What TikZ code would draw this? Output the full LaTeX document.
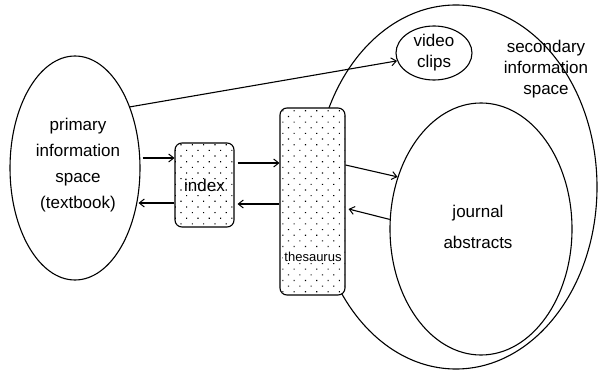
\documentclass[tikz,border=0pt]{standalone}
\usepackage{fontspec}
\setmainfont{Liberation Sans}
\usetikzlibrary{arrows.meta,patterns.meta,shapes.geometric}
\begin{document}
\begin{tikzpicture}[x=1pt,y=-1pt,line width=1.1pt,
  lbl/.style={font=\fontsize{17}{25}\selectfont,align=center,inner sep=0pt},
  arr/.style={-{Straight Barb[length=5pt,width=8pt,line width=1pt]}},
  oval/.style={draw,ellipse,inner sep=0pt},
  dotbox/.style={draw,rounded corners=7pt,inner sep=0pt,
    preaction={fill=white},
    pattern={Dots[distance=8pt,radius=0.8pt,angle=45]}}]
\useasboundingbox (0,0) rectangle (601,371);
% secondary information space
\node[oval,minimum width=282pt,minimum height=364pt] (sec) at (456,187) {};
\node[lbl,font=\fontsize{17}{21}\selectfont] (sectext) at (546,69) {secondary\\information\\space};
% primary
\node[oval,minimum width=130pt,minimum height=224pt] (prim) at (75,168) {};
\node[lbl,font=\fontsize{17}{26}\selectfont] (primtext) at (78,165) {primary\\information\\space\\(textbook)};
% index
\node[dotbox,minimum width=59pt,minimum height=84pt,lbl] (index) at (204.5,185) {index};
% thesaurus
\node[dotbox,minimum width=65pt,minimum height=187pt] (thes) at (312.5,201.5) {};
\node[lbl,font=\fontsize{13}{15}\selectfont,fill=white,inner sep=1pt] (thestext) at (313,257) {thesaurus};
% video clips
\node[oval,minimum width=76pt,minimum height=54pt] (video) at (434,53) {};
\node[lbl,font=\fontsize{17}{21}\selectfont] (videotext) at (434,53) {video\\clips};
% journal abstracts
\node[oval,minimum width=182pt,minimum height=252pt] (journal) at (481,229) {};
\node[lbl,font=\fontsize{17}{31}\selectfont] (journaltext) at (478,227) {journal\\abstracts};
% connectors
\draw[arr] ([shift={(2pt,10pt)}]prim.east) -- ([yshift=27pt]index.west);
\draw[arr] ([yshift=-18pt]index.west) -- ([shift={(-2pt,-35pt)}]prim.east);
\draw[arr] ([shift={(3pt,22pt)}]index.east) -- ([yshift=38.5pt]thes.west);
\draw[arr] ([yshift=-2.5pt]thes.west) -- ([shift={(3pt,-19pt)}]index.east);
\draw[arr] ([yshift=36.5pt]thes.east) -- (journal.148);
\draw[arr] (journal.174) -- ([shift={(3pt,-7.5pt)}]thes.east);
\draw[arr] (prim.48) -- (video.192);
\end{tikzpicture}
\end{document}
